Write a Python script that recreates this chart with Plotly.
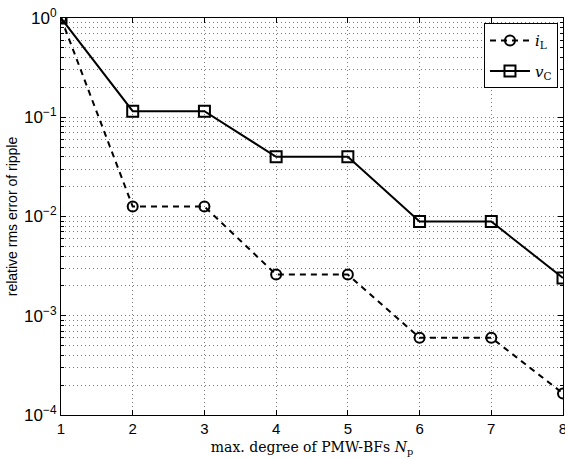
import plotly.graph_objects as go

# ---- data ----
degrees = [1, 2, 3, 4, 5, 6, 7, 8]
err_iL = [1.0, 0.0126, 0.0126, 0.0026, 0.0026, 0.0006, 0.0006, 0.000165]
err_vC = [1.0, 0.115, 0.115, 0.040, 0.040, 0.0089, 0.0089, 0.0024]
name_iL = "<i>i</i><sub>L</sub>"
name_vC = "<i>v</i><sub>C</sub>"
ytick_vals = [1e-4, 1e-3, 1e-2, 1e-1, 1e0]
ytick_text = ["10<sup>−4</sup>", "10<sup>−3</sup>", "10<sup>−2</sup>", "10<sup>−1</sup>", "10<sup>0</sup>"]
xtick_vals = [1, 2, 3, 4, 5, 6, 7, 8]
x_title = "max. degree of PMW-BFs <i>N</i><sub>p</sub>"
y_title = "relative rms error of ripple"

minor_vals = [k * 10.0 ** e for e in range(-4, 0) for k in range(2, 10)]

fig = go.Figure()
fig.add_trace(go.Scatter(
    x=degrees, y=err_iL, name=name_iL, mode="lines+markers",
    line=dict(color="black", width=2, dash="6px,5px"),
    marker=dict(symbol="circle-open", size=10, color="black", line=dict(width=2)),
    legendgroup="a",
))
fig.add_trace(go.Scatter(
    x=degrees, y=err_vC, name=name_vC, mode="lines+markers",
    line=dict(color="black", width=2),
    marker=dict(symbol="square-open", size=11, color="black", line=dict(width=2)),
    legendgroup="b",
))

grid_col = "#7a7a7a"
grid_dash = "1px,3px"
fig.update_layout(
    template="none",
    width=565, height=459,
    margin=dict(l=61, r=2, t=18, b=44),
    paper_bgcolor="white", plot_bgcolor="white",
    font=dict(family="Liberation Sans, Arial, sans-serif", size=14, color="black"),
    showlegend=True,
    legend=dict(
        x=0.99, y=0.987, xanchor="right", yanchor="top",
        bgcolor="white", bordercolor="black", borderwidth=1,
        font=dict(family="DejaVu Serif, Liberation Serif, serif", size=15),
        tracegroupgap=8, itemwidth=40,
    ),
    xaxis=dict(
        range=[1, 8], tickvals=xtick_vals, automargin=False,
        ticklabeloverflow="allow",
        showline=True, linecolor="black", linewidth=1, mirror="ticks",
        ticks="inside", ticklen=5, tickcolor="black",
        showgrid=True, gridcolor=grid_col, griddash=grid_dash, gridwidth=1,
        zeroline=False,
        tickfont=dict(size=15),
        title=dict(text=x_title, standoff=6,
                   font=dict(family="DejaVu Serif, Liberation Serif, serif", size=14)),
    ),
    yaxis=dict(
        type="log", range=[-4, 0], tickvals=ytick_vals, ticktext=ytick_text,
        automargin=False, ticklabeloverflow="allow",
        showline=True, linecolor="black", linewidth=1, mirror="ticks",
        ticks="inside", ticklen=5, tickcolor="black",
        showgrid=True, gridcolor=grid_col, griddash=grid_dash, gridwidth=1,
        zeroline=False,
        tickfont=dict(size=17),
        minor=dict(tickvals=minor_vals, ticks="inside", ticklen=3, tickcolor="black",
                   showgrid=True, gridcolor=grid_col, griddash=grid_dash, gridwidth=1),
        title=dict(text=y_title, standoff=3, font=dict(size=14)),
    ),
)

fig.write_html("out.html")
